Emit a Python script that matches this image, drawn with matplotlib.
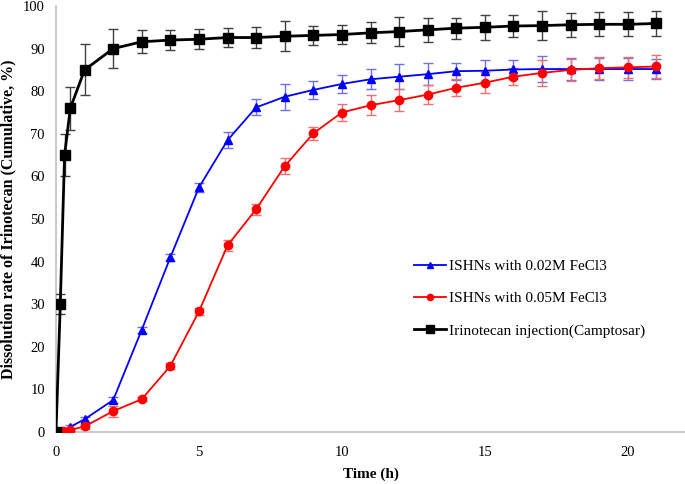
import numpy as np
from matplotlib import pyplot as plt

# data
t_ishn = [0, 0.25, 0.5, 1, 2, 3, 4, 5, 6, 7, 8, 9, 10, 11, 12, 13, 14, 15, 16, 17, 18, 19, 20, 21]
t_inj = [0, 0.15, 0.3, 0.5, 1, 2, 3, 4, 5, 6, 7, 8, 9, 10, 11, 12, 13, 14, 15, 16, 17, 18, 19, 20, 21]

blue_y = [0, 0.3, 1.2, 3.0, 7.5, 24.0, 41.0, 57.4, 68.5, 76.2, 78.7, 80.3, 81.7, 82.8, 83.4, 84.0,
          84.7, 84.8, 85.1, 85.2, 85.2, 85.2, 85.2, 85.2]
blue_err = [0, 0.3, 0.5, 0.6, 0.8, 0.7, 0.8, 1.0, 1.9, 1.9, 3.1, 2.1, 2.1, 2.4, 3.0, 2.6,
            2.0, 2.6, 2.3, 3.0, 2.5, 2.5, 2.6, 2.3]

red_y = [0, 0.3, 0.5, 1.3, 4.9, 7.7, 15.5, 28.3, 43.8, 52.3, 62.4, 70.1, 75.0, 76.7, 77.9, 79.2,
         80.8, 82.0, 83.4, 84.3, 85.0, 85.4, 85.6, 85.8]
red_err = [0, 0.2, 0.3, 0.5, 1.3, 0.5, 0.6, 0.8, 1.25, 1.25, 1.9, 1.6, 2.0, 2.3, 2.5, 2.3,
           2.0, 2.4, 2.0, 3.0, 2.6, 2.6, 2.4, 2.7]

black_y = [0, 30, 65, 76, 85, 90, 91.6, 92.0, 92.2, 92.6, 92.6, 92.9, 93.1, 93.3, 93.7, 94.0,
           94.4, 94.8, 95.0, 95.3, 95.4, 95.6, 95.7, 95.7, 95.9]
black_err = [0, 2.3, 5, 5, 6, 4.5, 2.7, 2.3, 2.3, 2.3, 2.5, 3.5, 2.3, 2.3, 2.5, 3.5,
             2.9, 2.5, 2.9, 2.5, 3.4, 2.8, 2.8, 2.85, 2.85]

labels = ['ISHNs with 0.02M FeCl3', 'ISHNs with 0.05M FeCl3', 'Irinotecan injection(Camptosar)']

plt.rcParams['font.family'] = 'Liberation Serif'

fig = plt.figure(figsize=(6.85, 4.84), dpi=100)
ax = fig.add_axes([56/685, 1 - 432/484, 1 - 56/685, (432 - 6)/484])

lines = []
eb = ax.errorbar(t_ishn, blue_y, yerr=blue_err, color='#0000ff', marker='^', markersize=6, lw=1.3,
                 ecolor='#6f6fe8', elinewidth=1, capsize=3.5, zorder=3)
lines.append(eb[0])
eb = ax.errorbar(t_ishn, red_y, yerr=red_err, color='#ff0000', marker='o', markersize=6, lw=1.3,
                 ecolor='#f07070', elinewidth=1, capsize=3.5, zorder=3)
lines.append(eb[0])
eb = ax.errorbar(t_inj, black_y, yerr=black_err, color='black', marker='s', markersize=7.5, lw=2,
                 ecolor='#404040', elinewidth=1, capsize=3.5, zorder=4)
lines.append(eb[0])

ax.set_xlim(0, 22)
ax.set_ylim(0, 100)
ax.set_xticks([0, 5, 10, 15, 20])
ax.set_yticks(np.arange(0, 101, 10))
ax.tick_params(length=0, labelsize=10.5)
ax.tick_params(axis='x', pad=10)
ax.tick_params(axis='y', pad=8)

for s in ['top', 'right']:
    ax.spines[s].set_visible(False)
for s in ['left', 'bottom']:
    ax.spines[s].set_color('#bfbfbf')
    ax.spines[s].set_linewidth(1.2)
    ax.spines[s].set_zorder(1)

ax.set_xlabel('Time (h)', fontsize=11, fontweight='bold', labelpad=6)
ax.set_ylabel('Dissolution rate of Irinotecan (Cumulative, %)', fontsize=11.5, fontweight='bold', labelpad=5)

ax.legend(lines, labels, loc='upper left', bbox_to_anchor=(400/685, 1 - 246/484),
          bbox_transform=fig.transFigure, frameon=False, fontsize=11,
          handlelength=2.1, handletextpad=0.2, labelspacing=1.2, markerscale=0.75)

fig.savefig('out.png', dpi=100)
